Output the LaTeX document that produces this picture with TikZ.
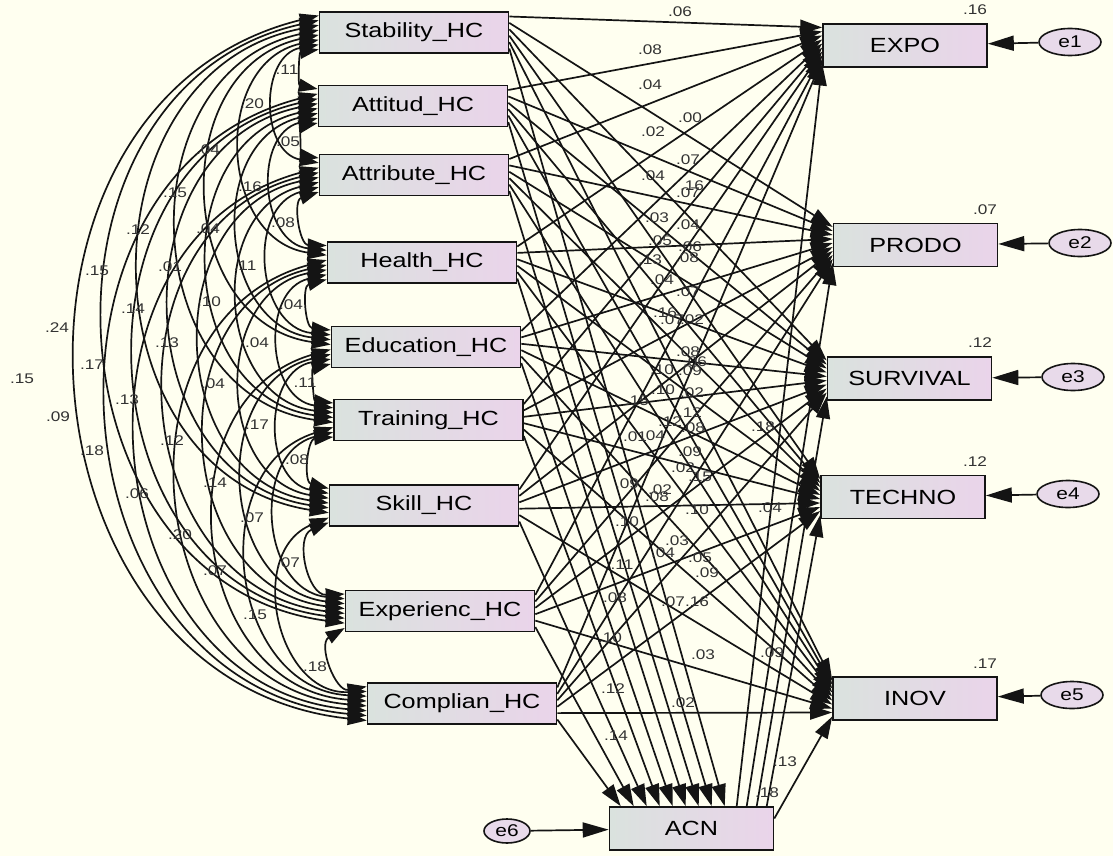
\documentclass[tikz,border=0pt]{standalone}
\usepackage{fontspec}
\setmainfont{Liberation Sans}
\usepackage{graphicx}
\usetikzlibrary{arrows.meta,calc,shapes.geometric}
\definecolor{bg}{RGB}{255,255,240}
\definecolor{boxL}{RGB}{218,226,222}
\definecolor{boxR}{RGB}{234,212,234}
\definecolor{ellf}{RGB}{232,218,234}
\definecolor{ink}{RGB}{20,20,20}
\newcommand\sx[1]{\scalebox{1.23}[1]{#1}}
\begin{document}
\begin{tikzpicture}[x=1pt,y=-1pt,
  var/.style={draw=ink, line width=1.6pt, left color=boxL, right color=boxR, minimum height=41pt, inner sep=0pt, font=\fontsize{20.5}{24}\selectfont},
  hc/.style={var, minimum width=189pt},
  outv/.style={var, minimum width=164pt, minimum height=43pt},
  err/.style={ellipse, draw=ink, line width=1.6pt, fill=ellf, minimum width=62pt, minimum height=27pt, inner sep=0pt, font=\fontsize{17}{20}\selectfont},
  lab/.style={font=\fontsize{14}{16}\selectfont, text=black!80, inner sep=0pt},
  pth/.style={draw=ink, line width=1.7pt, -{Triangle[length=22pt,width=14pt]}},
  errarrow/.style={draw=ink, line width=1.7pt, -{Triangle[length=26pt,width=15pt]}},
  cov/.style={draw=ink, line width=1.7pt, {Triangle[length=19pt,width=13pt]}-{Triangle[length=19pt,width=13pt]}, bend right=80, looseness=1.3},
]
\useasboundingbox (0,0) rectangle (1113,856);
\fill[bg] (0,0) rectangle (1113,856);

% exogenous boxes
\node[hc] (h1) at (414,32.5) {\sx{Stability\_HC}};
\node[hc] (h2) at (413,106) {\sx{Attitud\_HC}};
\node[hc] (h3) at (414,175) {\sx{Attribute\_HC}};
\node[hc] (h4) at (422,262.5) {\sx{Health\_HC}};
\node[hc] (h5) at (426,347) {\sx{Education\_HC}};
\node[hc] (h6) at (428.5,420) {\sx{Training\_HC}};
\node[hc] (h7) at (424,505.5) {\sx{Skill\_HC}};
\node[hc] (h8) at (440,611) {\sx{Experienc\_HC}};
\node[hc] (h9) at (462,703.5) {\sx{Complian\_HC}};

% outcome boxes
\node[outv] (o1) at (905,45.5) {\sx{EXPO}};
\node[outv] (o2) at (915.5,245) {\sx{PRODO}};
\node[outv] (o3) at (909.5,378.5) {\sx{SURVIVAL}};
\node[outv] (o4) at (903,497) {\sx{TECHNO}};
\node[outv] (o5) at (915,698.5) {\sx{INOV}};
\node[outv] (acn) at (691.5,828.5) {\sx{ACN}};

% error terms
\node[err] (e1) at (1070,42) {\sx{e1}};
\node[err] (e2) at (1080,243) {\sx{e2}};
\node[err] (e3) at (1073,377) {\sx{e3}};
\node[err] (e4) at (1068,494) {\sx{e4}};
\node[err] (e5) at (1072,695) {\sx{e5}};
\node[err, minimum width=46pt, minimum height=24pt] (e6) at (507,831) {\sx{e6}};

% covariance attachment points
\foreach \i in {1,...,9}{
  \foreach \j in {1,...,9}{
    \ifnum\i=\j\else
      \pgfmathsetmacro\s{\j<\i ? (\i-1-\j) : (\i-1+9-\j)}
      \pgfmathsetmacro\off{-17+\s*34/7}
      \coordinate (a\i-\j) at ($(h\i.west)+(0,\off)$);
    \fi
  }
}
% covariance arcs
\foreach \i in {1,...,8}{
  \pgfmathtruncatemacro\k{\i+1}
  \foreach \j in {\k,...,9}{
    \draw[cov] (a\i-\j) to (a\j-\i);
  }
}

% regression paths
\foreach \i in {1,...,9}{
  \foreach \k in {1,...,5}{
    \draw[pth] ($(h\i.east)+(0,{-16+(\k-1)*6.4})$) -- ($(o\k.west)+(0,{-18+(\i-1)*4})$);
  }
  \draw[pth] ($(h\i.east)+(0,16)$) -- ($(acn.north west)+({12+(9-\i)*13},0)$);
}
\foreach \k in {1,...,4}{
  \draw[pth] ($(acn.north west)+({128+(\k-1)*10},0)$) -- ($(o\k.west)+(0,18)$);
}
\draw[pth] ($(acn.east)+(0,-10)$) -- ($(o5.west)+(0,18)$);

% error arrows
\foreach \k in {1,...,5}{ \draw[errarrow] (e\k) -- (o\k); }
\draw[errarrow] (e6) -- (acn);

% squared multiple correlations
\node[lab] (r1) at (975,10) {\sx{.16}};
\node[lab] (r2) at (985,210) {\sx{.07}};
\node[lab] (r3) at (980,343) {\sx{.12}};
\node[lab] (r4) at (975,462) {\sx{.12}};
\node[lab] (r5) at (985,664) {\sx{.17}};

% covariance labels
\foreach \x/\y/\t [count=\n] in {287/70/.11, 252/104/.20, 288/142/.05, 208/150/.04, 250/187/.16, 175/193/.15, 283/223/.08, 138/230/.12, 208/229/.04, 97/271/.15, 170/267/.01, 245/266/.11, 209/302/.10, 291/305/.04, 133/309/.14, 57/328/.24, 167/343/.13, 257/343/.04, 22/379/.15, 92/365/.17, 213/384/.04, 127/400/.13, 305/383/.11, 58/417/.09, 92/451/.18, 172/441/.12, 257/425/.17, 137/494/.06, 215/483/.14, 297/460/.08, 180/535/.20, 252/518/.07, 215/571/.07, 288/563/.07, 255/615/.15, 315/667/.18}{
  \node[lab] (cl\n) at (\x,\y) {\sx{\t}};
}

% path labels
\foreach \x/\y/\t [count=\n] in {680/12/.06, 650/50/.08, 650/85/.04, 690/118/.00, 653/132/.02, 688/160/.07, 653/176/.04, 692/186/.16, 688/193/.07, 657/218/.03, 688/225/.04, 660/241/.05, 690/247/.06, 650/260/.13, 687/258/.08, 662/280/.04, 688/292/.07, 665/313/.16, 672/320/.07, 692/320/.02, 688/352/.08, 695/362/.06, 662/370/.10, 690/371/.09, 637/401/.15, 663/390/.10, 692/393/.02, 690/413/.12, 670/422/.12, 693/428/.08, 635/437/.01, 653/436/.04, 690/452/.09, 683/468/.02, 700/477/.15, 627/484/.09, 660/490/.02, 657/497/.08, 697/510/.10, 627/522/.10, 677/541/.03, 663/553/.04, 700/558/.05, 707/573/.09, 622/565/.11, 615/598/.08, 673/602/.07, 697/602/.16, 610/638/.10, 703/655/.03, 772/653/.09, 613/689/.12, 683/703/.02, 616/736/.14, 785/762/.13, 767/793/.18, 763/427/.18, 770/508/.04}{
  \node[lab] (pl\n) at (\x,\y) {\sx{\t}};
}
\end{tikzpicture}
\end{document}
